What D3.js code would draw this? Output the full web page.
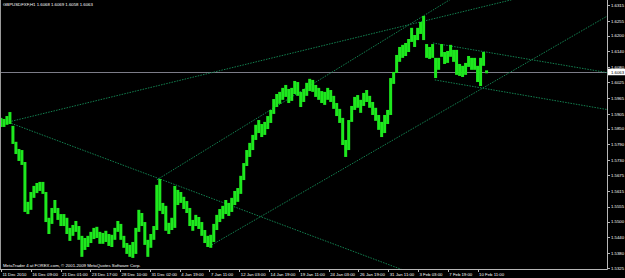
<!DOCTYPE html>
<html>
<head>
<meta charset="utf-8">
<script src="https://cdn.jsdelivr.net/npm/d3@7"></script>
<style>
	body { margin: 0; background: #000; }
	svg { display: block; }
	text { font-family: 'Liberation Sans', Arial, sans-serif; font-size: 4.3px; fill: #fff; }
</style>
</head>
<body>
<svg id="chart" width="625" height="278"></svg>
<script>
const symbol = 'GBPUSDFXF,H1';
const lastBar = [1.6068, 1.6069, 1.6058, 1.6063]; // open high low close
const copyright = 'MetaTrader 4 at FOREX.com, \u00a9 2001-2009 MetaQuotes Software Corp.';

// price range of each group of H1 bars, left to right
const highs = [
	1.5890,1.5886,1.5897,1.5912,1.5860,1.5800,1.5773,1.5769,1.5724,1.5574,
	1.5611,1.5634,1.5645,1.5649,1.5649,1.5611,1.5514,1.5551,1.5581,1.5551,
	1.5528,1.5528,1.5514,1.5476,1.5487,1.5502,1.5483,1.5446,1.5438,1.5446,
	1.5461,1.5476,1.5480,1.5461,1.5457,1.5465,1.5453,1.5450,1.5476,1.5502,
	1.5491,1.5446,1.5419,1.5412,1.5423,1.5476,1.5544,1.5532,1.5498,1.5431,
	1.5453,1.5483,1.5638,1.5660,1.5570,1.5559,1.5495,1.5514,1.5634,1.5619,
	1.5611,1.5593,1.5577,1.5551,1.5506,1.5525,1.5517,1.5498,1.5468,1.5446,
	1.5450,1.5491,1.5525,1.5547,1.5559,1.5581,1.5570,1.5589,1.5615,1.5626,
	1.5672,1.5720,1.5769,1.5796,1.5826,1.5864,1.5882,1.5867,1.5875,1.5897,
	1.5920,1.5961,1.5980,1.5988,1.6003,1.6014,1.5999,1.6003,1.6029,1.6025,
	1.5988,1.5999,1.6022,1.6037,1.6033,1.6014,1.6003,1.5991,1.5988,1.6003,
	1.5995,1.5973,1.5946,1.5924,1.5890,1.5807,1.5882,1.5935,1.5969,1.5976,
	1.5958,1.5984,1.5995,1.5973,1.5950,1.5928,1.5901,1.5875,1.5901,1.5920,
	1.6040,1.6063,1.6127,1.6157,1.6165,1.6172,1.6187,1.6229,1.6202,1.6229,
	1.6251,1.6274,1.6168,1.6157,1.6168,1.6116,1.6116,1.6168,1.6138,1.6142,
	1.6165,1.6146,1.6146,1.6093,1.6086,1.6097,1.6123,1.6116,1.6116,1.6086,
	1.6116,1.6138,1.6069
];
const lows = [
	1.5856,1.5856,1.5864,1.5867,1.5792,1.5754,1.5728,1.5713,1.5536,1.5528,
	1.5544,1.5589,1.5607,1.5615,1.5604,1.5498,1.5453,1.5491,1.5532,1.5506,
	1.5483,1.5483,1.5453,1.5427,1.5446,1.5461,1.5431,1.5367,1.5393,1.5404,
	1.5419,1.5434,1.5438,1.5416,1.5416,1.5423,1.5408,1.5404,1.5431,1.5461,
	1.5431,1.5401,1.5378,1.5367,1.5363,1.5378,1.5461,1.5483,1.5412,1.5367,
	1.5401,1.5431,1.5468,1.5540,1.5528,1.5465,1.5453,1.5468,1.5476,1.5562,
	1.5570,1.5547,1.5532,1.5483,1.5465,1.5483,1.5472,1.5446,1.5419,1.5404,
	1.5401,1.5423,1.5468,1.5498,1.5510,1.5528,1.5521,1.5536,1.5562,1.5574,
	1.5604,1.5656,1.5709,1.5743,1.5769,1.5807,1.5833,1.5818,1.5826,1.5848,
	1.5871,1.5905,1.5931,1.5943,1.5958,1.5969,1.5946,1.5954,1.5980,1.5973,
	1.5931,1.5950,1.5973,1.5991,1.5988,1.5969,1.5958,1.5946,1.5939,1.5958,
	1.5950,1.5924,1.5897,1.5871,1.5788,1.5743,1.5769,1.5875,1.5920,1.5928,
	1.5909,1.5935,1.5950,1.5928,1.5901,1.5879,1.5845,1.5818,1.5833,1.5867,
	1.5901,1.6018,1.6059,1.6101,1.6116,1.6123,1.6138,1.6176,1.6157,1.6183,
	1.6206,1.6183,1.6116,1.6112,1.6116,1.6040,1.6071,1.6120,1.6093,1.6097,
	1.6120,1.6101,1.6052,1.6048,1.6044,1.6052,1.6082,1.6071,1.6071,1.6025,
	1.6010,1.6086,1.6058
];
const barsPerGroup = 6.44;

const priceTicks = [1.6315, 1.6255, 1.6200, 1.6140, 1.6080, 1.6025, 1.5965, 1.5905, 1.5850,
	1.5790, 1.5730, 1.5675, 1.5615, 1.5555, 1.5500, 1.5440, 1.5380, 1.5325];

const dateLabels = ['11 Dec 2010', '16 Dec 09:00', '21 Dec 01:00', '23 Dec 17:00', '28 Dec 10:00',
	'31 Dec 02:00', '4 Jan 19:00', '7 Jan 11:00', '12 Jan 03:00', '14 Jan 19:00', '19 Jan 11:00',
	'24 Jan 03:00', '26 Jan 19:00', '31 Jan 11:00', '3 Feb 03:00', '7 Feb 19:00', '10 Feb 11:00'];
const barsPerLabel = 64;

// trendlines: two anchors (bar index, price), drawn as rays to the right
const trendlines = [
	{b1: 19, p1: 1.5875, b2: 966, p2: 1.6278},
	{b1: 19, p1: 1.5873, b2: 859, p2: 1.5322},
	{b1: 337, p1: 1.5657, b2: 906, p2: 1.6270},
	{b1: 455, p1: 1.5412, b2: 1246, p2: 1.6214},
	{b1: 930, p1: 1.6172, b2: 1246, p2: 1.6078},
	{b1: 934, p1: 1.6033, b2: 1246, p2: 1.5939}
];

const width = 625;
const height = 278;
const plotRight = 607;
const plotBottom = 269;

const x = d3.scaleLinear().domain([0, 1304]).range([0, plotRight]);
const y = d3.scaleLinear().domain([1.5325, 1.6315]).range([268, 5]);

const svg = d3.select('#chart');

svg.append('rect').attr('width', width).attr('height', height).attr('fill', '#000');

svg.append('clipPath').attr('id', 'plot')
	.append('rect').attr('width', plotRight).attr('height', plotBottom);

const plot = svg.append('g').attr('clip-path', 'url(#plot)');

// bid line
plot.append('line')
	.attr('x1', 0).attr('x2', plotRight)
	.attr('y1', Math.round(y(lastBar[3])) + 0.5).attr('y2', Math.round(y(lastBar[3])) + 0.5)
	.attr('stroke', '#7c7c88').attr('stroke-width', 1);

// trendlines
plot.selectAll('line.trend')
	.data(trendlines)
	.join('line')
	.attr('class', 'trend')
	.attr('x1', d => x(d.b1))
	.attr('y1', d => y(d.p1))
	.attr('x2', plotRight)
	.attr('y2', d => {
		let slope = (y(d.p2) - y(d.p1)) / (x(d.b2) - x(d.b1));
		return y(d.p1) + slope * (plotRight - x(d.b1));
	})
	.attr('stroke', '#138050')
	.attr('stroke-width', 1)
	.attr('stroke-dasharray', '1.5,1.2');

// price bars
let groupWidth = x(barsPerGroup) - x(0);
plot.selectAll('rect.bar')
	.data(highs)
	.join('rect')
	.attr('class', 'bar')
	.attr('x', (d, i) => x(2 + i * barsPerGroup) - groupWidth / 2)
	.attr('width', groupWidth)
	.attr('y', d => y(d))
	.attr('height', (d, i) => y(lows[i]) - y(d))
	.attr('fill', '#1ee81e');

// frame
svg.append('line').attr('x1', 0.5).attr('x2', 0.5).attr('y1', 0).attr('y2', plotBottom)
	.attr('stroke', '#9a9a9a');
svg.append('line').attr('x1', plotRight + 0.5).attr('x2', plotRight + 0.5).attr('y1', 0).attr('y2', plotBottom + 0.5)
	.attr('stroke', '#b8b8b8');
svg.append('line').attr('x1', 0).attr('x2', plotRight + 0.5).attr('y1', plotBottom + 0.5).attr('y2', plotBottom + 0.5)
	.attr('stroke', '#b8b8b8');

// price axis
let priceAxis = svg.append('g');
priceAxis.selectAll('line')
	.data(priceTicks)
	.join('line')
	.attr('x1', plotRight).attr('x2', plotRight + 3)
	.attr('y1', d => Math.round(y(d)) + 0.5).attr('y2', d => Math.round(y(d)) + 0.5)
	.attr('stroke', '#b8b8b8');
priceAxis.selectAll('text')
	.data(priceTicks)
	.join('text')
	.attr('x', plotRight + 4)
	.attr('y', d => y(d) + 1.6)
	.text(d => d.toFixed(4));

// current price box
svg.append('rect')
	.attr('x', plotRight + 1).attr('y', y(lastBar[3]) - 3.3)
	.attr('width', width - plotRight - 1).attr('height', 6.6)
	.attr('fill', '#fff');
svg.append('text')
	.attr('x', plotRight + 4).attr('y', y(lastBar[3]) + 1.6)
	.style('fill', '#000')
	.text(lastBar[3].toFixed(4));

// time axis
let timeAxis = svg.append('g');
timeAxis.selectAll('line')
	.data(dateLabels)
	.join('line')
	.attr('x1', (d, i) => Math.round(x(2 + i * barsPerLabel)) + 0.5)
	.attr('x2', (d, i) => Math.round(x(2 + i * barsPerLabel)) + 0.5)
	.attr('y1', plotBottom).attr('y2', plotBottom + 3)
	.attr('stroke', '#b8b8b8');
timeAxis.selectAll('text')
	.data(dateLabels)
	.join('text')
	.attr('x', (d, i) => x(2 + i * barsPerLabel) + 1.5)
	.attr('y', 276)
	.text(d => d);

// header and footer
svg.append('text').attr('x', 3).attr('y', 6)
	.text(symbol + '  ' + lastBar.map(v => v.toFixed(4)).join(' '));
svg.append('text').attr('x', 3).attr('y', 266.5)
	.text(copyright);
</script>
</body>
</html>
